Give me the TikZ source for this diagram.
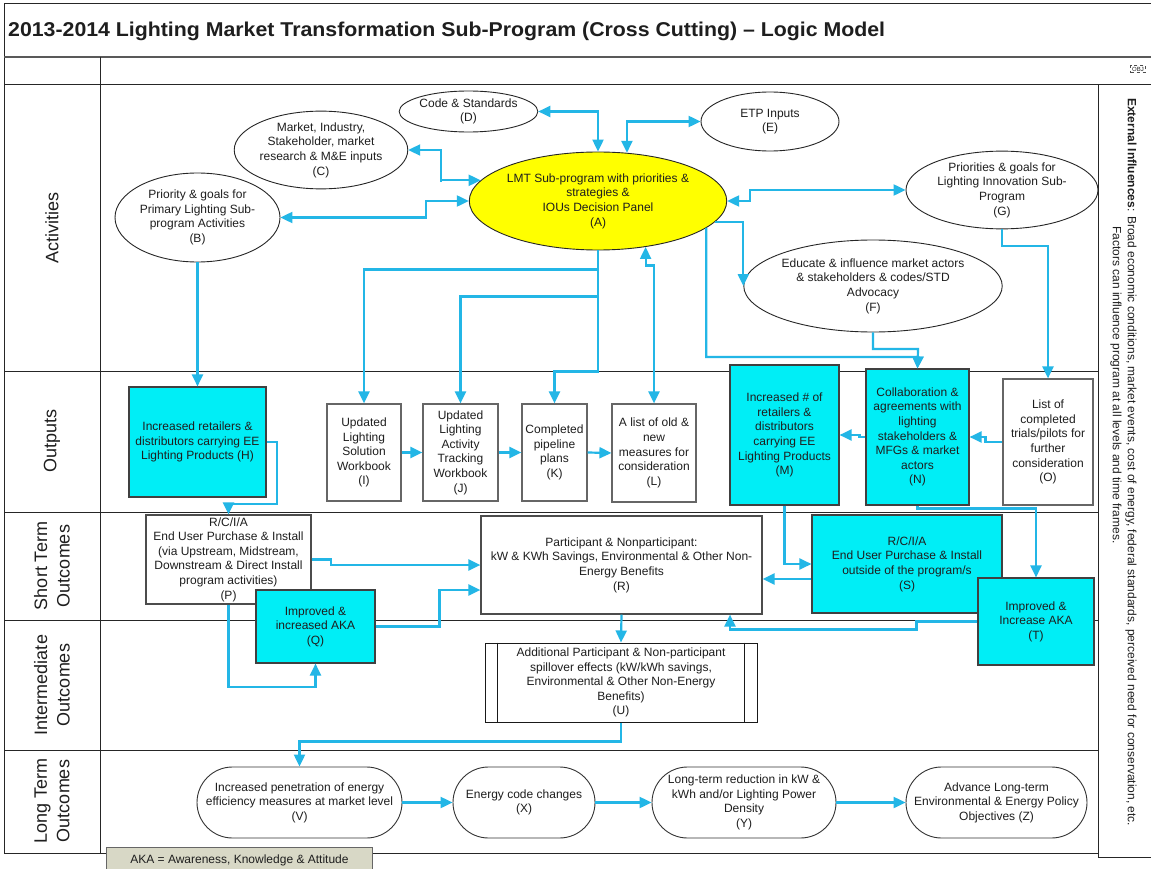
\documentclass[tikz,border=0pt]{standalone}
\usepackage{fontspec}
\setmainfont{Liberation Sans}
\usetikzlibrary{arrows.meta,shapes.geometric,shapes.misc,calc}
\definecolor{conn}{RGB}{35,182,230}
\definecolor{cyanfill}{RGB}{0,238,246}
\definecolor{lmtyellow}{RGB}{255,255,0}
\definecolor{akafill}{RGB}{216,216,198}
\definecolor{txt}{RGB}{30,30,30}
\begin{document}
\begin{tikzpicture}[x=1pt,y=-1pt,
  every node/.style={font=\fontsize{12}{14.6}\selectfont, text=txt, align=center, inner sep=0pt},
  ell/.style={ellipse, draw=black!85, line width=0.9pt, fill=white},
  gbox/.style={rectangle, draw=black!60, line width=1.2pt, fill=white},
  cbox/.style={rectangle, draw=black!75, line width=1.1pt, fill=cyanfill},
  termbox/.style={rounded rectangle, draw=black!80, line width=0.9pt, fill=white},
  flow/.style={draw=conn, line width=2.2pt, -{Triangle[length=12pt,width=11pt]}},
  bflow/.style={flow, {Triangle[length=12pt,width=11pt]}-{Triangle[length=12pt,width=11pt]}},
  lane/.style={draw=black!85, line width=1pt},
  lanelabel/.style={rotate=90, font=\fontsize{18}{22.5}\selectfont}
]
\useasboundingbox (0,0) rectangle (1151,869);
\fill[white] (0,0) rectangle (1151,869);

% frame and swim lanes
\draw[lane] (4,4) -- (1151,4);
\draw[lane] (4,4) -- (4,853);
\draw[lane, line width=1.4pt, draw=black!65] (4,57) -- (1151,57);
\draw[lane] (4,85) -- (1151,85);
\draw[lane] (100,57) -- (100,853);
\draw[lane] (1098,85) -- (1098,857) -- (1151,857);
\foreach \yy in {371,512,620,750,853} \draw[lane] (4,\yy) -- (1098,\yy);

% title row
\node[anchor=west, font=\bfseries\fontsize{20}{22}\selectfont] (title) at (8,31)
  {\scalebox{1.065}[1]{2013-2014 Lighting Market Transformation Sub-Program (Cross Cutting) -- Logic Model}};
\node[draw=black!70, dashed, line width=0.6pt, inner sep=1.5pt, font=\fontsize{6}{7}\selectfont] (obj) at (1138,69) {OBJ};

% lane labels
\node[lanelabel] (lblact) at (52,228) {Activities};
\node[lanelabel] (lblout) at (52,441) {Outputs};
\node[lanelabel] (lblst) at (52,566) {Short Term\\Outcomes};
\node[lanelabel] (lblio) at (52,685) {Intermediate\\Outcomes};
\node[lanelabel] (lbllt) at (52,801) {Long Term\\Outcomes};

% external influences column
\node[rotate=-90, anchor=west] (ext1) at (1131,98)
  {\textbf{External Influences}: Broad economic conditions, market events, cost of energy, federal standards, perceived need for conservation, etc.};
\node[rotate=-90, anchor=west] (ext2) at (1116,226)
  {Factors can influence program at all levels and time frames.};

% activities
\node[ell, fill=lmtyellow, minimum width=240pt, minimum height=98pt] (A) at (598,201)
  {LMT Sub-program with priorities \&\\strategies \&\\IOUs Decision Panel\\(A)};
\node[ell, minimum width=165pt, minimum height=89pt] (B) at (197.5,217.5)
  {Priority \& goals for\\Primary Lighting Sub-\\program Activities\\(B)};
\node[ell, minimum width=166pt, minimum height=74pt] (C) at (321,150)
  {Market, Industry,\\Stakeholder, market\\research \& M\&E inputs\\(C)};
\node[ell, minimum width=133pt, minimum height=41pt] (D) at (468.5,111.5)
  {Code \& Standards\\(D)};
\node[ell, minimum width=138pt, minimum height=59pt] (E) at (770,121.5)
  {ETP Inputs\\(E)};
\node[ell, minimum width=232pt, minimum height=92pt] (F) at (873,286)
  {Educate \& influence market actors\\\& stakeholders \& codes/STD\\Advocacy\\(F)};
\node[ell, minimum width=192pt, minimum height=76pt] (G) at (1002,190)
  {Priorities \& goals for\\Lighting Innovation Sub-\\Program\\(G)};

% outputs
\node[cbox, minimum width=137pt, minimum height=110pt] (H) at (197.5,442)
  {Increased retailers \&\\distributors carrying EE\\Lighting Products (H)};
\node[gbox, minimum width=74pt, minimum height=97pt] (I) at (364,452.5)
  {Updated\\Lighting\\Solution\\Workbook\\(I)};
\node[gbox, minimum width=75pt, minimum height=97pt] (J) at (460.5,452.5)
  {Updated\\Lighting\\Activity\\Tracking\\Workbook\\(J)};
\node[gbox, minimum width=65pt, minimum height=97pt] (K) at (554.5,452.5)
  {Completed\\pipeline\\plans\\(K)};
\node[gbox, minimum width=84pt, minimum height=98pt] (L) at (654,453)
  {A list of old \&\\new\\measures for\\consideration\\(L)};
\node[cbox, minimum width=109pt, minimum height=140pt] (M) at (784.5,435)
  {Increased \# of\\retailers \&\\distributors\\carrying EE\\Lighting Products\\(M)};
\node[cbox, minimum width=103pt, minimum height=136pt] (N) at (917.5,437)
  {Collaboration \&\\agreements with\\lighting\\stakeholders \&\\MFGs \& market\\actors\\(N)};
\node[gbox, minimum width=90pt, minimum height=126pt] (O) at (1048,442)
  {List of\\completed\\trials/pilots for\\further\\consideration\\(O)};

% short term outcomes
\node[gbox, draw=black!70, minimum width=165pt, minimum height=89pt] (P) at (228.5,559.5)
  {R/C/I/A\\End User Purchase \& Install\\(via Upstream, Midstream,\\Downstream \& Direct Install\\program activities)\\(P)};
\node[cbox, minimum width=119pt, minimum height=73pt] (Q) at (315.5,626.5)
  {Improved \&\\increased AKA\\(Q)};
\node[gbox, draw=black!70, minimum width=281pt, minimum height=98pt] (R) at (621.5,565)
  {Participant \& Nonparticipant:\\kW \& KWh Savings, Environmental \& Other Non-\\Energy Benefits\\(R)};
\node[cbox, minimum width=190pt, minimum height=98pt] (S) at (907,564)
  {R/C/I/A\\End User Purchase \& Install\\outside of the program/s\\(S)};
\node[cbox, minimum width=116pt, minimum height=87pt] (T) at (1036,621.5)
  {Improved \&\\Increase AKA\\(T)};

% intermediate outcome
\node[gbox, draw=black!90, line width=1pt, minimum width=272pt, minimum height=79pt] (U) at (621,682.5)
  {Additional Participant \& Non-participant\\spillover effects (kW/kWh savings,\\Environmental \& Other Non-Energy\\Benefits)\\(U)};
\draw[black!90, line width=1pt] ([xshift=13pt]U.north west) -- ([xshift=13pt]U.south west);
\draw[black!90, line width=1pt] ([xshift=-13pt]U.north east) -- ([xshift=-13pt]U.south east);

% long term outcomes
\node[termbox, minimum width=205pt, minimum height=71pt] (V) at (299.5,802.5)
  {Increased penetration of energy\\efficiency measures at market level\\(V)};
\node[termbox, minimum width=142pt, minimum height=71pt] (X) at (524,802.5)
  {Energy code changes\\(X)};
\node[termbox, minimum width=184pt, minimum height=71pt] (Y) at (744,802.5)
  {Long-term reduction in kW \&\\kWh and/or Lighting Power\\Density\\(Y)};
\node[termbox, minimum width=181pt, minimum height=71pt] (Z) at (996.5,802.5)
  {Advance Long-term\\Environmental \& Energy Policy\\Objectives (Z)};

% legend
\node[draw=black!60, fill=akafill, line width=0.9pt, minimum width=266pt, minimum height=26pt, anchor=north west] (aka) at (106,847)
  {AKA = Awareness, Knowledge \& Attitude};

% connectors among activities
\coordinate (jc) at (441,182);
\coordinate (jb) at (426,201);
\coordinate (nja) at (918,357);
\coordinate (njf) at (918,349);
\coordinate (hp) at (277,504);
\draw[bflow] (D.east) -| (A.north);
\draw[bflow] (E.west) -| (A.59);
\draw[bflow] (C.east) -| (jc) |- (A.170);
\draw[bflow] (B.east) -| (jb) |- (A.west);
\draw[bflow] (A.east) -- ++(23,0) |- (G.west);
\draw[flow] (A.350) -| (F.west);
\draw[flow] (A.346) |- (nja) -- (N.north);
\draw[flow] (F.south) |- (njf) -- (N.north);
\draw[flow] (G.south) -- ++(0,17) -| (O.north);
\draw[flow] (A.south) -- ++(0,19) -| (I.north);
\draw[flow] (A.south) -- ++(0,46) -| (J.north);
\draw[flow] (A.south) -- ++(0,121) -| (K.north);
\draw[bflow] (L.north) -- ++(0,-138) -| (A.316);
\draw[flow] (B.south) -- (H.north);

% connectors among outputs
\draw[flow] (I.east) -- (J.west);
\draw[flow] (J.east) -- (K.west);
\draw[flow] (K.east) -- (L.west);
\draw[flow] (N.west) -- ++(-6,0) |- (M.east);
\draw[flow] (O.west) -- ++(-17,0) |- (N.east);
\draw[flow] (H.east) -| (hp) -| (P.north);

% connectors among outcomes
\draw[flow] (P.east) -- ++(19,0) |- (R.west);
\draw[flow] (Q.east) -- ++(64,0) |- ($(R.west)+(0,25)$);
\draw[flow] (P.south) -- ++(0,82) -| (Q.south);
\draw[flow] (M.south) |- (S.west);
\draw[flow] ($(S.west)+(0,15)$) -- ($(R.east)+(0,14)$);
\draw[flow] (N.south) -- ++(0,3) -| (T.north);
\draw[flow] (T.west) -- ++(-61,0) -- ++(0,8) -| ($(R.south)+(108.5,0)$);
\draw[flow] (R.south) -- (U.north);
\draw[flow] (U.south) -- ++(0,19) -| (V.north);
\draw[flow] (V.east) -- (X.west);
\draw[flow] (X.east) -- (Y.west);
\draw[flow] (Y.east) -- (Z.west);
\end{tikzpicture}
\end{document}
